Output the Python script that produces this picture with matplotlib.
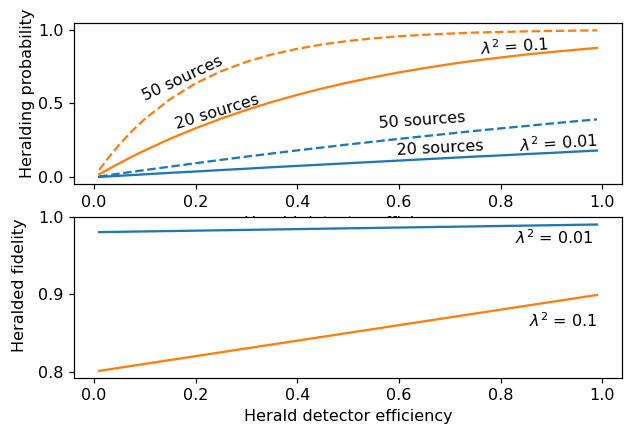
import numpy as np
from matplotlib import pyplot as plt

plt.rcParams["font.size"] = 10.5

# herald detector efficiency (x values)
eta = [0.01, 0.02, 0.03, 0.05, 0.075, 0.1, 0.15, 0.2, 0.25, 0.3, 0.35, 0.4, 0.45,
       0.5, 0.55, 0.6, 0.65, 0.7, 0.75, 0.8, 0.85, 0.9, 0.95, 0.99]

# heralding probability
p_01_20 = [0.020, 0.039, 0.058, 0.095, 0.140, 0.182, 0.261, 0.332, 0.397, 0.456, 0.510, 0.558,
           0.602, 0.642, 0.677, 0.710, 0.739, 0.766, 0.790, 0.811, 0.831, 0.848, 0.864, 0.876]
p_01_50 = [0.049, 0.095, 0.140, 0.222, 0.314, 0.395, 0.530, 0.636, 0.718, 0.782, 0.832, 0.870,
           0.900, 0.923, 0.941, 0.955, 0.965, 0.973, 0.980, 0.984, 0.988, 0.991, 0.993, 0.995]
p_001_20 = [0.002, 0.004, 0.006, 0.010, 0.015, 0.020, 0.030, 0.039, 0.049, 0.058, 0.068, 0.077,
            0.086, 0.095, 0.104, 0.113, 0.122, 0.131, 0.140, 0.148, 0.157, 0.165, 0.174, 0.181]
p_001_50 = [0.005, 0.010, 0.015, 0.025, 0.037, 0.049, 0.072, 0.095, 0.118, 0.140, 0.161, 0.182,
            0.202, 0.222, 0.241, 0.260, 0.278, 0.296, 0.314, 0.331, 0.347, 0.364, 0.380, 0.392]

# heralded fidelity (straight lines)
eta_f = [0.01, 0.5, 0.99]
f_001 = [0.9801, 0.9850, 0.9899]
f_01 = [0.801, 0.850, 0.899]

blue = "#1f77b4"
orange = "#ff7f0e"

fig = plt.figure(figsize=(628 / 110, 427 / 110), dpi=110)

ax1 = fig.add_axes([0.1183, 0.5684, 0.8721, 0.3777])
ax1.plot(eta, p_001_20, color=blue)
ax1.plot(eta, p_001_50, "--", color=blue)
ax1.plot(eta, p_01_20, color=orange)
ax1.plot(eta, p_01_50, "--", color=orange)
ax1.set_yticks([0.0, 0.5, 1.0])
ax1.set_ylabel("Heralding probability")
ax1.yaxis.set_label_coords(-0.0718, 0.566)
ax1.set_xlabel("Herald detector efficiency")

ax1.text(0.174, 0.668, "50 sources", rotation=25, ha="center", va="center")
ax1.text(0.243, 0.444, "20 sources", rotation=17, ha="center", va="center")
ax1.text(0.827, 0.885, r"$\lambda^2$ = 0.1", rotation=4, ha="center", va="center")
ax1.text(0.645, 0.384, "50 sources", rotation=4, ha="center", va="center")
ax1.text(0.682, 0.194, "20 sources", rotation=3, ha="center", va="center")
ax1.text(0.914, 0.234, r"$\lambda^2$ = 0.01", rotation=4, ha="center", va="center")

ax2 = fig.add_axes([0.1183, 0.1155, 0.8721, 0.3770])
ax2.plot(eta_f, f_001, color=blue)
ax2.plot(eta_f, f_01, color=orange)
ax2.set_ylim(0.7922, 1.0)
ax2.set_yticks([0.8, 0.9, 1.0])
ax2.set_xlabel("Herald detector efficiency")
ax2.set_ylabel("Heralded fidelity")
ax2.yaxis.set_label_coords(-0.0855, 0.574)
ax2.text(0.905, 0.9725, r"$\lambda^2$ = 0.01", ha="center", va="center")
ax2.text(0.923, 0.866, r"$\lambda^2$ = 0.1", ha="center", va="center")

fig.savefig("out.png", dpi=110)
